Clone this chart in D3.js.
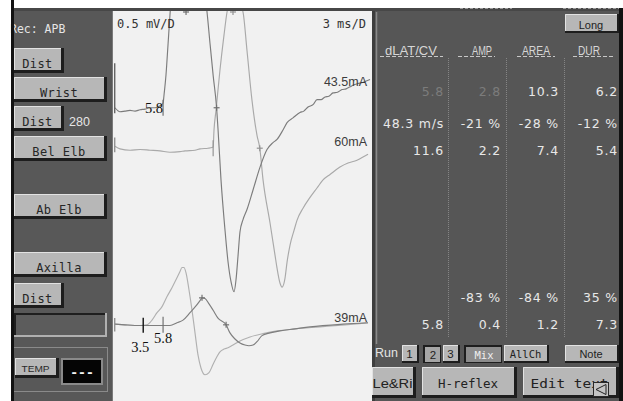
<!DOCTYPE html>
<html>
<head>
<meta charset="utf-8">
<script src="https://cdn.jsdelivr.net/npm/d3@7/dist/d3.min.js"></script>
<style>
html,body{margin:0;padding:0;background:#fff;overflow:hidden}
svg{display:block}
</style>
</head>
<body>
<script>
// Motor conduction study, recording over APB. Sweep 3 ms/D, gain 0.5 mV/D.
const sweepMs = [0, 30];
const screenMv = [0, 5.8];

// Baseline of each trace on screen (mV from the bottom edge)
const traceBaseMv = [4.35, 3.75, 1.13, 1.13];
const stimLabels = ["43.5mA", "60mA", "", "39mA"];

// Traces: [time ms, amplitude mV relative to baseline, negative-up]
const wristTrace = [[0.23,0],[0.81,-0.06],[1.39,-0.05],[1.97,-0.04],[2.55,-0.05],[3.13,-0.03],[3.71,-0.02],[4.29,0],[4.87,0.0],[5.21,0.01],[5.56,0.04],[5.8,0.07],[5.91,0.19],[6.14,0.49],[6.37,0.93],[6.6,1.38],[6.95,1.9],[7.53,2.49],[8.0,2.72],[8.46,2.8],[9.0,2.74],[9.5,2.52],[10.31,1.97],[10.89,1.42],[11.24,0.95],[11.6,0.48],[12.0,0],[12.17,-0.33],[12.51,-1.07],[12.97,-1.81],[13.32,-2.28],[13.67,-2.58],[14.02,-2.73],[14.25,-2.55],[14.48,-2.2],[14.71,-1.84],[15.06,-1.66],[15.52,-1.51],[16.22,-1.22],[17.03,-0.88],[17.84,-0.62],[18.5,-0.52],[19.0,-0.47],[19.69,-0.33],[20.16,-0.22],[20.85,-0.15],[21.66,-0.07],[22.1,-0.05],[22.59,0.01],[23.2,0.05],[23.63,0.12],[24.1,0.12],[24.56,0.16],[25.0,0.17],[25.48,0.22],[26.0,0.23],[26.53,0.27],[27.0,0.28],[27.45,0.31],[27.9,0.34],[28.38,0.36],[28.8,0.37],[29.19,0.39],[29.77,0.42]];
const belElbTrace = [[0.23,0.03],[0.81,-0.01],[1.97,-0.03],[3.13,-0.02],[4.29,-0.03],[5.44,-0.04],[6.6,-0.06],[7.76,-0.05],[8.34,-0.04],[9.5,-0.03],[10.08,-0.01],[11.0,0.0],[11.47,0.01],[11.6,0.02],[11.7,0.27],[11.93,0.56],[12.39,1.16],[12.86,1.68],[13.21,2.02],[13.44,2.15],[13.9,2.2],[14.36,2.18],[14.71,2.12],[15.06,2.02],[15.52,1.45],[16.1,0.71],[16.68,0.19],[17.0,0],[17.38,-0.47],[18.19,-1.11],[18.77,-1.59],[19.0,-1.78],[19.34,-2.0],[19.58,-2.06],[19.92,-1.93],[20.16,-1.69],[20.5,-1.44],[20.97,-1.22],[21.31,-1.07],[22.01,-0.89],[22.82,-0.73],[23.63,-0.59],[24.33,-0.47],[25.14,-0.39],[26.29,-0.28],[27.22,-0.22],[28.26,-0.18],[28.96,-0.13],[29.54,-0.09]];
const proxTrace = [[0.23,0.01],[1.39,0],[3.13,-0.01],[3.94,0],[4.52,0.07],[5.1,0.18],[5.68,0.27],[6.26,0.42],[6.83,0.55],[7.41,0.7],[7.76,0.79],[7.99,0.85],[8.22,0.85],[8.46,0.77],[8.8,0.52],[9.15,0.22],[9.5,-0.12],[9.85,-0.45],[10.19,-0.64],[10.66,-0.74],[11.12,-0.71],[11.58,-0.59],[12.05,-0.47],[12.39,-0.4],[12.86,-0.36],[13.32,-0.34],[13.9,-0.3],[14.71,-0.24],[15.87,-0.18],[17.38,-0.13],[19.0,-0.09],[21.08,-0.06],[23.98,-0.03],[26.87,0.0],[29.54,0.03]];
const distTrace = [[0.23,0.01],[1.39,0],[3.13,-0.01],[4.87,-0.01],[5.8,-0.01],[6.6,-0.01],[7.41,0.03],[8.11,0.07],[8.92,0.18],[9.61,0.28],[10.08,0.36],[10.31,0.4],[10.66,0.39],[11.12,0.31],[11.58,0.22],[12.16,0.1],[13.1,0],[13.55,-0.12],[14.13,-0.21],[14.71,-0.27],[15.29,-0.3],[15.75,-0.31],[16.22,-0.3],[16.68,-0.25],[17.26,-0.16],[18.19,-0.12],[19.34,-0.09],[21.08,-0.06],[22.82,-0.03],[26.64,0.01],[29.54,0.03]];
const traces = [wristTrace, belElbTrace, proxTrace, distTrace];

// Results table
const colHeads = ["dLAT/CV", "AMP", "AREA", "DUR"];
const colLat  = ["5.8", "48.3 m/s", "11.6", "", "5.8"];
const colAmp  = ["2.8", "-21 %", "2.2", "-83 %", "0.4"];
const colArea = ["10.3", "-28 %", "7.4", "-84 %", "1.2"];
const colDur  = ["6.2", "-12 %", "5.4", "35 %", "7.3"];
const tableCols = [colLat, colAmp, colArea, colDur];

// Which table row belongs to which trace
const traceRow = [0, 2, null, 4];
const peakMs = [8.46, 13.9, null, 10.31];

// Stimulation sites
const siteButtons = ["Dist", "Wrist", "Dist", "Bel Elb", "Ab Elb", "Axilla", "Dist"];
const distanceMm = "280";
const recLabel = "Rec: APB";
const gainLabel = "0.5 mV/D";
const sweepLabel = "3 ms/D";

// Hand-marked latencies
const noteText = ["5.8", "3.5", "5.8"];
const noteMs = [5.8, 3.5, 5.8];

const W = 623, H = 401;
const MONO = "'DejaVu Sans Mono', monospace";
const SANS = "'Liberation Sans', Arial, sans-serif";
const DSANS = "'DejaVu Sans', sans-serif";
const SERIF = "'Liberation Serif', 'Times New Roman', serif";

const svg = d3.select("body").append("svg").attr("width", W).attr("height", H);

function rect(x, y, w, h, fill, g = svg) {
  return g.append("rect").attr("x", x).attr("y", y).attr("width", w).attr("height", h).attr("fill", fill);
}
function txt(x, y, s, o = {}, g = svg) {
  const t = g.append("text").attr("x", x).attr("y", y).text(s)
    .attr("font-family", o.font || MONO).attr("font-size", o.size || 12)
    .attr("fill", o.fill || "#222").attr("text-anchor", o.anchor || "start");
  if (o.len) t.attr("textLength", o.len).attr("lengthAdjust", "spacingAndGlyphs");
  if (o.ls) t.attr("letter-spacing", o.ls);
  if (o.weight) t.attr("font-weight", o.weight);
  return t;
}
function button(x, y, w, h, label, o = {}) {
  const s = o.shadow || 3;
  if (o.pressed) {
    rect(x, y, w, h, "#1d1d1d");
    rect(x + 2, y + 2, w - 3, h - 3, o.face || "#8e8e8e");
  } else {
    rect(x, y, w, h, "#1d1d1d");
    rect(x, y, w - s, h - s, o.face || "#b7b7b7");
    svg.append("path").attr("d", `M${x + 0.5},${y + h - s} V${y + 0.5} H${x + w - s}`)
      .attr("fill", "none").attr("stroke", "#e2e2e2").attr("stroke-width", 1);
  }
  const cx = x + (w - (o.pressed ? 0 : s)) / 2 + (o.pressed ? 1 : 0);
  txt(cx, o.base || (y + h - 6), label, Object.assign({anchor: "middle"}, o.text || {}));
}

// ---- frame ----
rect(0, 0, W, H, "#ffffff");
rect(11, 8, 102, H - 8, "#585858");
rect(372, 8, 251, H - 8, "#565656");
rect(11, 8, W - 11, 3, "#474747");
svg.append("line").attr("x1", 460).attr("x2", 512).attr("y1", 8.5).attr("y2", 8.5)
  .attr("stroke", "#9a9a9a").attr("stroke-dasharray", "3,2");
svg.append("line").attr("x1", 563).attr("x2", 619).attr("y1", 8.5).attr("y2", 8.5)
  .attr("stroke", "#9a9a9a").attr("stroke-dasharray", "3,2");

// ---- trace window ----
const plot = {x0: 113, x1: 372, y0: 11, y1: H};
rect(plot.x0, plot.y0, plot.x1 - plot.x0, plot.y1 - plot.y0, "#f1f1f1");
rect(372, 11, 3, H - 11, "#3e3e3e");
svg.append("line").attr("x1", 376.5).attr("x2", 376.5).attr("y1", 12).attr("y2", 344)
  .attr("stroke", "#8a8a8a").attr("stroke-width", 1.5);
svg.append("line").attr("x1", 112.5).attr("x2", 112.5).attr("y1", 11).attr("y2", H)
  .attr("stroke", "#7a7a7a").attr("stroke-width", 1);

const x = d3.scaleLinear().domain(sweepMs).range([plot.x0, plot.x1]);
const y = d3.scaleLinear().domain(screenMv).range([plot.y1, 10]);

svg.append("clipPath").attr("id", "win").append("rect")
  .attr("x", plot.x0).attr("y", plot.y0).attr("width", plot.x1 - plot.x0).attr("height", plot.y1 - plot.y0);
const win = svg.append("g").attr("clip-path", "url(#win)");

const traceStroke = ["#7c7c7c", "#a9a9a9", "#b0b0b0", "#7e7e7e"];
const traceOrder = [2, 3, 1, 0];
traceOrder.forEach(i => {
  const base = traceBaseMv[i];
  const line = d3.line().x(d => x(d[0])).y(d => y(base + d[1])).curve(d3.curveMonotoneX);
  win.append("path").datum(traces[i]).attr("d", line)
    .attr("fill", "none").attr("stroke", traceStroke[i]).attr("stroke-width", 1.15)
    .attr("stroke-linejoin", "round");
});

// sweep-start ticks
const startTick = (i, up, down, col) => win.append("line")
  .attr("x1", x(0.2)).attr("x2", x(0.2))
  .attr("y1", y(traceBaseMv[i] + up)).attr("y2", y(traceBaseMv[i] - down))
  .attr("stroke", col).attr("stroke-width", 1.3);
startTick(0, 0.66, 0.08, "#5a5a5a");
startTick(1, 0.16, 0.06, "#8a8a8a");
startTick(2, 0.1, 0.1, "#8a8a8a");

// latency / peak / duration markers
const markColor = ["#707070", "#949494", null, "#727272"];
[0, 1, 3].forEach(i => {
  const r = traceRow[i];
  const onset = +colLat[r], amp = +colAmp[r], dur = +colDur[r];
  const yb = y(traceBaseMv[i]);
  const c = markColor[i];
  win.append("line").attr("x1", x(onset)).attr("x2", x(onset))
    .attr("y1", yb - 8).attr("y2", yb + 8).attr("stroke", c).attr("stroke-width", 1.2);
  const plus = (px, py) => {
    win.append("line").attr("x1", px - 3).attr("x2", px + 3).attr("y1", py).attr("y2", py).attr("stroke", c).attr("stroke-width", 1.2);
    win.append("line").attr("x1", px).attr("x2", px).attr("y1", py - 3).attr("y2", py + 3).attr("stroke", c).attr("stroke-width", 1.2);
  };
  plus(x(onset + dur), yb);
  plus(x(peakMs[i]), Math.max(y(traceBaseMv[i] + amp), plot.y0 + 1));
});

// stimulus intensity labels at the sweep end
const stimDy = [7, -8, 0, -1];
[0, 1, 3].forEach(i => {
  const last = traces[i][traces[i].length - 1];
  txt(367, y(traceBaseMv[i] + last[1]) + stimDy[i], stimLabels[i],
      {font: SANS, size: 12.5, fill: "#3c3c3c", anchor: "end"});
});

// gain / sweep
txt(117, 27.5, gainLabel, {size: 12, fill: "#333"});
txt(366, 27.5, sweepLabel, {size: 12, fill: "#333", anchor: "end"});

// hand-written latency notes
svg.append("line").attr("x1", x(noteMs[1])).attr("x2", x(noteMs[1]))
  .attr("y1", y(traceBaseMv[2]) - 7).attr("y2", y(traceBaseMv[2]) + 8)
  .attr("stroke", "#111").attr("stroke-width", 1.4);
txt(x(noteMs[0]), 113, noteText[0], {font: SERIF, size: 14.5, fill: "#111", anchor: "end"});
txt(x(noteMs[1]) - 3, 352, noteText[1], {font: SERIF, size: 14.5, fill: "#111", anchor: "middle"});
txt(x(noteMs[2]), 343, noteText[2], {font: SERIF, size: 14.5, fill: "#111", anchor: "middle"});

// ---- left panel ----
txt(10, 33, recLabel, {size: 11.5, fill: "#e6e6e6"});
const siteBox = [[14,48,50,25],[14,77,93,25],[14,106,50,25],[14,136,93,25],[14,194,93,25],[14,252,93,25],[14,283,50,25]];
siteButtons.forEach((s, i) => {
  const b = siteBox[i];
  button(b[0], b[1], b[2], b[3], s, {base: b[1] + 19.5, text: {size: 12, fill: "#262626", ls: 0.4}});
});
txt(69, 126, distanceMm, {font: SANS, size: 12.5, fill: "#e6e6e6"});

// empty entry field
rect(14, 313, 93, 24, "#b0b0b0");
rect(14, 313, 91, 22, "#1e1e1e");
rect(16, 315, 89, 20, "#5c5c5c");

// temperature group
svg.append("rect").attr("x", 13.5).attr("y", 347.5).attr("width", 94).attr("height", 44)
  .attr("fill", "none").attr("stroke", "#8a8a8a").attr("stroke-width", 1);
button(15, 358, 44, 20, "TEMP", {base: 372, text: {font: SANS, size: 9.5, fill: "#2a2a2a", len: 28}});
rect(61, 358, 42, 27, "#8a8a8a");
rect(63, 360, 38, 23, "#050505");
txt(82, 377, "---", {size: 13, fill: "#f2f2f2", anchor: "middle", weight: "bold"});

// left and right black borders
rect(11, 0, 3, H, "#121212");
rect(619, 8, 4, H - 8, "#121212");

// ---- right panel: results table ----
button(565, 14, 54, 19, "Long", {base: 28.5, shadow: 2, text: {font: SANS, size: 11, fill: "#222"}});

const headSpan = [[380, 443, 385, 52], [458, 495, 472, 20], [517, 555, 522, 28], [573, 613, 578, 22]];
colHeads.forEach((h, i) => {
  const s = headSpan[i];
  txt(s[2], 54.5, h, {font: SANS, size: 12.5, fill: "#d6d6d6", len: s[3]});
  svg.append("line").attr("x1", s[0]).attr("x2", s[1]).attr("y1", 56.5).attr("y2", 56.5)
    .attr("stroke", "#c8c8c8").attr("stroke-width", 1).attr("stroke-dasharray", "4,2");
});
[448, 506, 564].forEach(sx => {
  svg.append("line").attr("x1", sx + 0.5).attr("x2", sx + 0.5).attr("y1", 58).attr("y2", 338)
    .attr("stroke", "#858585").attr("stroke-width", 1).attr("stroke-dasharray", "1,1");
});

const colRight = [444, 501, 559, 618];
const rowBase = [96, 128, 155, 302, 329];
tableCols.forEach((col, c) => {
  col.forEach((v, r) => {
    if (!v) return;
    const dim = r === 0 && c < 2;
    txt(colRight[c], rowBase[r], v, {font: DSANS, size: 12.5, ls: 0.8, anchor: "end",
      fill: dim ? "#7c7c7c" : "#e8e8e8"});
  });
});

// run selector
txt(375, 357, "Run", {font: SANS, size: 12.5, fill: "#e4e4e4"});
button(402, 345, 17, 18, "1", {base: 358, shadow: 2, text: {font: SANS, size: 11.5, fill: "#222"}});
button(423, 345, 18, 18, "2", {base: 359, pressed: true, face: "#a6a6a6", text: {font: SANS, size: 11.5, fill: "#222"}});
button(443, 345, 17, 18, "3", {base: 358, shadow: 2, text: {font: SANS, size: 11.5, fill: "#222"}});
button(464, 345, 38, 18, "Mix", {base: 359, pressed: true, face: "#8c8c8c", text: {size: 10.5, fill: "#f0f0f0"}});
button(504, 345, 45, 18, "AllCh", {base: 358, shadow: 2, text: {size: 10.5, fill: "#222"}});
button(565, 345, 54, 18, "Note", {base: 358, shadow: 2, text: {font: SANS, size: 11, fill: "#222"}});

button(372, 367, 44, 31, "Le&Ri", {base: 388, shadow: 3, text: {font: SANS, size: 13, fill: "#222", len: 40}});
button(422, 367, 95, 31, "H-reflex", {base: 388, shadow: 3, text: {size: 12.5, fill: "#222"}});
button(523, 367, 96, 31, "Edit text", {base: 388, shadow: 3, text: {size: 12.5, fill: "#222", len: 78}});
// scroll arrow over the edit button
rect(593, 382, 16, 15, "#2a2a2a");
rect(594, 383, 14, 13, "#c4c4c4");
svg.append("path").attr("d", "M596,389.5 L606,384.5 L606,394.5 Z")
  .attr("fill", "none").attr("stroke", "#222").attr("stroke-width", 1);
</script>
</body>
</html>
